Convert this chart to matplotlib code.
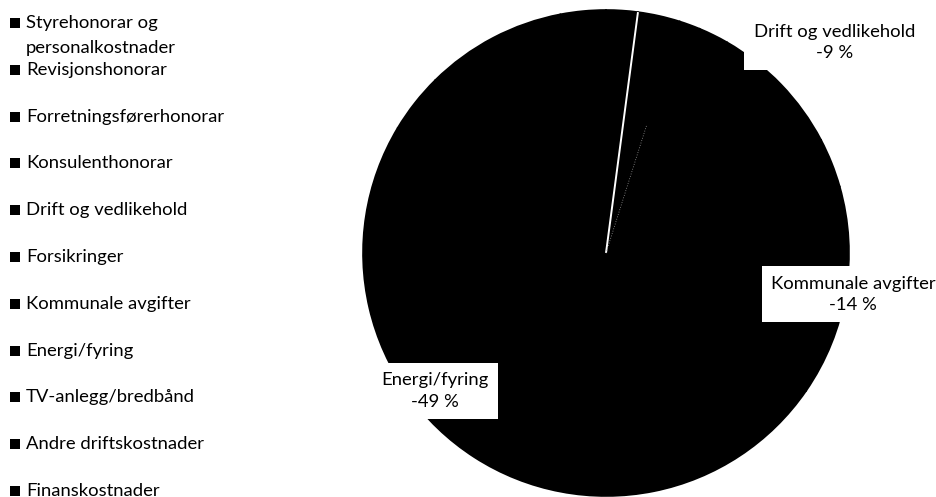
import numpy as np
import matplotlib
matplotlib.use("Agg")
import matplotlib.pyplot as plt

plt.rcParams["font.family"] = ["Lato", "DejaVu Sans"]

categories = ["Styrehonorar og\npersonalkostnader", "Revisjonshonorar", "Forretningsførerhonorar",
              "Konsulenthonorar", "Drift og vedlikehold", "Forsikringer", "Kommunale avgifter",
              "Energi/fyring", "TV-anlegg/bredbånd", "Andre driftskostnader", "Finanskostnader"]
# andel av kostnadene i prosent (negative i kilden)
shares = [-2.1, -2.8, -1.4, -2.0, -9.0, -3.3, -14.0, -49.0, -4.0, -9.4, -3.0]
labelled = ["Drift og vedlikehold", "Kommunale avgifter", "Energi/fyring"]

# where the data labels sit, in pie units (radius = 1)
label_pos = {"Drift og vedlikehold": (0.94, 0.866),
             "Kommunale avgifter": (1.017, -0.17),
             "Energi/fyring": (-0.704, -0.568)}

W, H = 937, 497
FS = 13.3

fig = plt.figure(figsize=(W / 100, H / 100), dpi=100)

# legend drawn in pixel coordinates on an overlay axes
lax = fig.add_axes([0, 0, 1, 1])
lax.set_xlim(0, W)
lax.set_ylim(H, 0)
lax.axis("off")

step = 46.8
for i, name in enumerate(categories):
    y = 28 + i * step
    lax.scatter(15.5, y - 5, marker="s", s=45, color="black", linewidths=0)
    for k, line in enumerate(name.split("\n")):
        lax.text(26, y + 25 * k, line, fontsize=FS, va="baseline", ha="left")

# pie
ax = fig.add_axes([363 / W, 1 / H, 486 / W, 486 / H])
wedges, _ = ax.pie(np.abs(shares), startangle=90, counterclock=False,
                   colors=["black"] * len(shares),
                   wedgeprops=dict(edgecolor="black", linewidth=1.2))
ax.set_xlim(-1, 1)
ax.set_ylim(-1, 1)

# the two separators that show up in the original
th = np.deg2rad(wedges[0].theta1)
ax.plot([0, np.cos(th)], [0, np.sin(th)], color="white", lw=1.4, solid_capstyle="butt")
th2 = np.deg2rad(wedges[1].theta1)
ax.plot([0, 0.55 * np.cos(th2)], [0, 0.55 * np.sin(th2)], color="0.6", lw=0.6, ls=(0, (1, 2)))

for name in labelled:
    i = categories.index(name)
    x, y = label_pos[name]
    ax.text(x, y, f"{name}\n{shares[i]:.0f} %", ha="center", va="center", fontsize=FS,
            linespacing=1.4, clip_on=False,
            bbox=dict(boxstyle="square,pad=0.5", fc="white", ec="none"))

plt.savefig("out.png", dpi=100)
plt.close()
